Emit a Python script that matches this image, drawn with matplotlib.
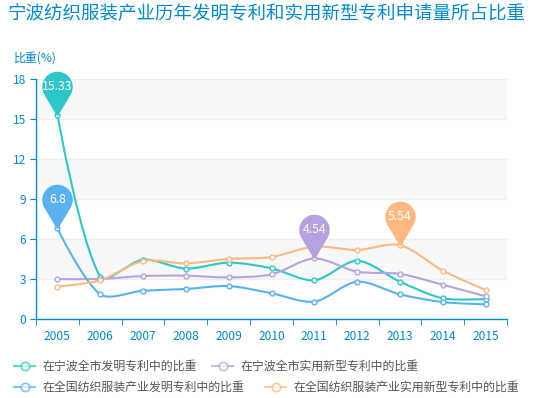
import numpy as np
import matplotlib
matplotlib.use("Agg")
import matplotlib.pyplot as plt
from matplotlib.path import Path
from matplotlib.patches import PathPatch
from matplotlib.lines import Line2D

plt.rcParams['font.family'] = ['Noto Sans CJK SC', 'DejaVu Sans']

years = ['2005', '2006', '2007', '2008', '2009', '2010', '2011', '2012', '2013', '2014', '2015']
nb_invention = [15.33, 3.17, 4.45, 3.78, 4.23, 3.8, 2.9, 4.37, 2.8, 1.55, 1.5]
nb_utility = [3.0, 3.0, 3.22, 3.25, 3.12, 3.35, 4.54, 3.55, 3.38, 2.57, 1.7]
cn_invention = [6.8, 1.85, 2.12, 2.25, 2.47, 1.93, 1.3, 2.8, 1.85, 1.27, 1.1]
cn_utility = [2.43, 2.9, 4.35, 4.17, 4.5, 4.65, 5.43, 5.18, 5.54, 3.63, 2.17]

names = ['在宁波全市发明专利中的比重', '在宁波全市实用新型专利中的比重',
         '在全国纺织服装产业发明专利中的比重', '在全国纺织服装产业实用新型专利中的比重']
colors = ['#2ec7c9', '#b6a2de', '#5ab1ef', '#ffb980']
series = [nb_invention, nb_utility, cn_invention, cn_utility]

W, H = 554, 398
fig = plt.figure(figsize=(W / 100, H / 100), dpi=100)
L, R, T, B = 36, 507, 79, 319
ax = fig.add_axes([L / W, (H - B) / H, (R - L) / W, (B - T) / H])

x = np.arange(len(years))
ax.set_xlim(-0.5, len(years) - 0.5)
ax.set_ylim(0, 18)

# px per data unit, so the smoothing behaves like it does on screen
sx = (R - L) / len(years)
sy = (B - T) / 18.0


def smooth_path(xs, ys, s=0.3):
    p = np.column_stack([np.asarray(xs, float) * sx, np.asarray(ys, float) * sy])
    n = len(p)
    cin = p.copy()
    cout = p.copy()
    for i in range(1, n - 1):
        v = p[i + 1] - p[i - 1]
        d0 = np.hypot(*(p[i] - p[i - 1]))
        d1 = np.hypot(*(p[i] - p[i + 1]))
        r = d1 / (d0 + d1)
        cin[i] = p[i] - v * s * (1 - r)
        cout[i] = p[i] + v * s * r
    verts = [p[0]]
    codes = [Path.MOVETO]
    for i in range(1, n):
        verts += [cout[i - 1], cin[i], p[i]]
        codes += [Path.CURVE4] * 3
    verts = np.array(verts) / [sx, sy]
    return Path(verts, codes)


# split areas and grid
for k in range(6):
    ax.axhspan(k * 3, k * 3 + 3, color='#f8f8f8' if k % 2 else 'white', zorder=0, lw=0)
for v in range(3, 19, 3):
    ax.axhline(v, color='#eeeeee', lw=1, zorder=1)

for vals, c in zip(series, colors):
    ax.add_patch(PathPatch(smooth_path(x, vals), fill=False, edgecolor=c, lw=1.5, zorder=3,
                           capstyle='round', joinstyle='round'))
    ax.plot(x, vals, 'o', ms=3.5, mfc='white', mec=c, mew=1, zorder=4)

# pin markers at the max of each series
rr, dd = 1.0, 1.96
a = np.arcsin(rr / dd)
th = np.linspace(-a, np.pi + a, 40)
pin_verts = [(0, 0)] + [(rr * np.cos(t), dd + rr * np.sin(t)) for t in th] + [(0, 0)]
pin = Path(pin_verts, [Path.MOVETO] + [Path.LINETO] * (len(pin_verts) - 2) + [Path.CLOSEPOLY])
for vals, c in zip(series, colors):
    i = int(np.argmax(vals))
    ax.plot(x[i], vals[i], marker=pin, ms=62, color=c, mec=c, lw=0, zorder=6, clip_on=False)
    ax.annotate(f'{vals[i]:g}', (x[i], vals[i]), xytext=(0, 28.5), textcoords='offset pixels',
                ha='center', va='center', color='white', fontsize=8.8, zorder=7,
                annotation_clip=False)

axis_c = '#008acd'
for s in ['top', 'right']:
    ax.spines[s].set_visible(False)
for s in ['left', 'bottom']:
    ax.spines[s].set_color(axis_c)
    ax.spines[s].set_linewidth(1)
ax.set_yticks(range(0, 19, 3))
ax.set_xticks(x)
ax.set_xticklabels(years)
ax.set_xticks(np.arange(-0.5, len(years), 1), minor=True)
ax.tick_params(axis='x', which='major', length=0, pad=8, labelcolor=axis_c, labelsize=8.6)
ax.tick_params(axis='x', which='minor', length=4, color=axis_c, direction='out')
ax.tick_params(axis='y', length=4, color=axis_c, labelcolor=axis_c, labelsize=8.6, pad=3)

fig.text(8 / W, 1 - 14 / H, '宁波纺织服装产业历年发明专利和实用新型专利申请量所占比重',
         fontsize=13.3, color=axis_c, va='center', ha='left')
fig.text(14 / W, 1 - 58 / H, '比重(%)', fontsize=8.6, color=axis_c, va='center', ha='left')

# legend laid out by hand, two rows like the original
leg_pos = [(14, 366), (212, 366), (14, 387), (265, 387)]
for (lx, ly), c, name in zip(leg_pos, colors, names):
    yf = 1 - ly / H
    fig.add_artist(Line2D([lx / W, (lx + 21) / W], [yf, yf], color=c, lw=1.5, alpha=0.75))
    fig.add_artist(Line2D([(lx + 10.5) / W], [yf], marker='o', ms=6, mfc='white', mec=c,
                          mew=1.2, alpha=0.75))
    fig.text((lx + 29) / W, yf, name, fontsize=8.6, color='#555555', va='center', ha='left')

fig.savefig('out.png', dpi=100)
